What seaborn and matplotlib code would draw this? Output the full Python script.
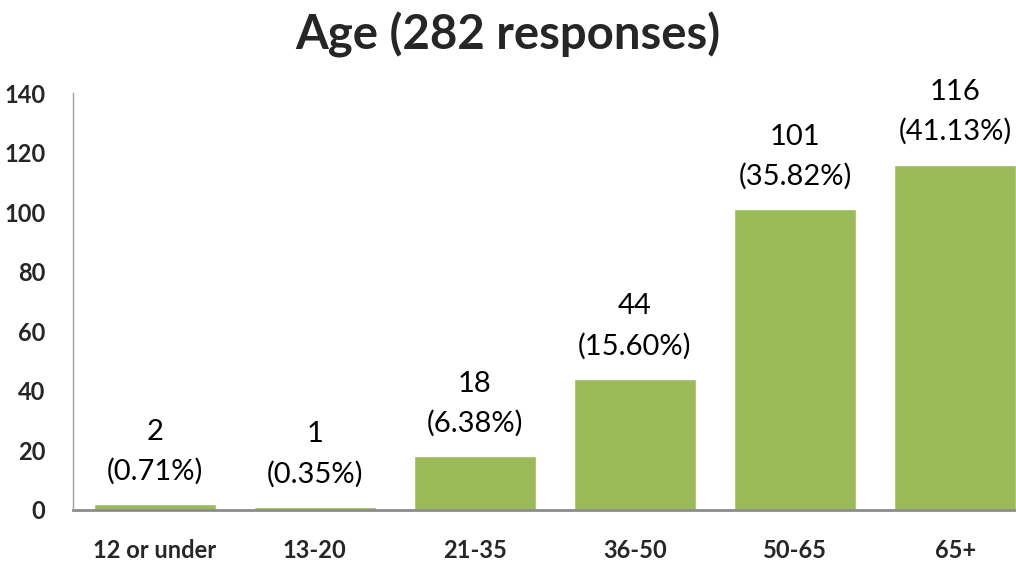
import matplotlib
matplotlib.use("Agg")
import matplotlib.pyplot as plt
import seaborn as sns
import pandas as pd

categories = ["12 or under", "13-20", "21-35", "36-50", "50-65", "65+"]
counts = [2, 1, 18, 44, 101, 116]
percents = [0.71, 0.35, 6.38, 15.60, 35.82, 41.13]
yticks = [0, 20, 40, 60, 80, 100, 120, 140]

sns.set_theme(style="white")
plt.rcParams["font.family"] = ["Lato", "DejaVu Sans"]

df = pd.DataFrame({"age": categories, "count": counts})

fig = plt.figure(figsize=(10.16, 5.71), dpi=100)
ax = fig.add_axes([0.0719, 0.107, 0.9281, 0.730])

sns.barplot(data=df, x="age", y="count", color="#9BBB59", saturation=1,
            width=0.76, ax=ax)

ax.set_xlim(-0.51, 5.38)
ax.set_ylim(0, 140)
ax.set_yticks(yticks)
ax.set_yticklabels([str(t) for t in yticks], fontsize=17, fontweight="bold")
ax.set_xticks(range(len(categories)))
ax.set_xticklabels(categories, fontsize=17, fontweight="bold")
ax.tick_params(axis="x", pad=21, length=0)
ax.tick_params(axis="y", pad=20, length=0)
ax.set_xlabel("")
ax.set_ylabel("")

for s in ["top", "right"]:
    ax.spines[s].set_visible(False)
ax.spines["left"].set_color("#a0a0a0")
ax.spines["left"].set_linewidth(1.0)
ax.spines["bottom"].set_color("#8c8c8c")
ax.spines["bottom"].set_linewidth(2.0)

for i, (c, p) in enumerate(zip(counts, percents)):
    ax.annotate(f"{c}\n({p:.2f}%)", xy=(i, c), xytext=(0, 14),
                textcoords="offset points", ha="center", va="bottom",
                fontsize=21, linespacing=1.6, color="black")

fig.suptitle("Age (282 responses)", fontsize=34, fontweight="bold",
             x=0.5, y=0.98, va="top")

fig.savefig("out.png", dpi=100)
